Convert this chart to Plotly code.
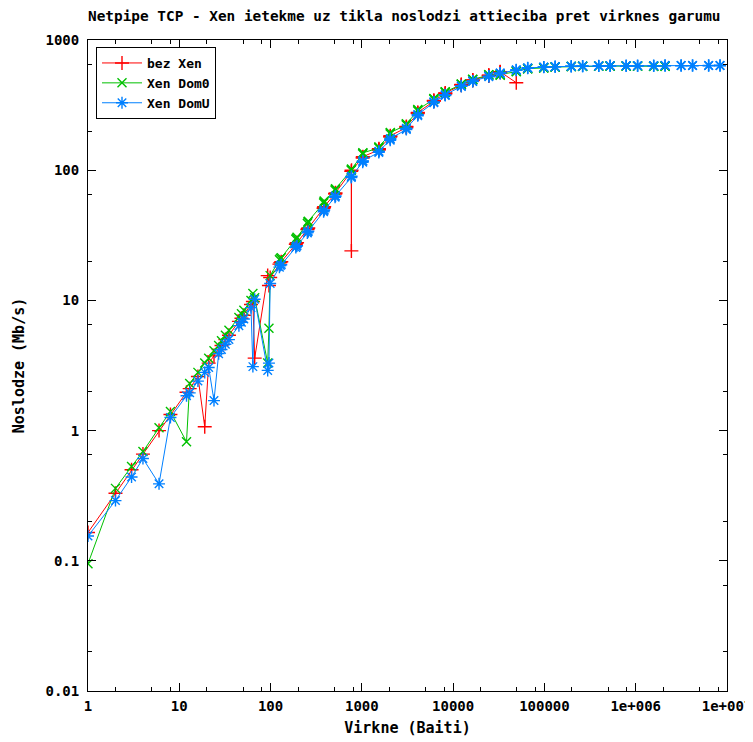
import plotly.graph_objects as go

# Message sizes (bytes) used by NetPIPE
sizes = [1, 2, 3, 4, 6, 8, 12, 13, 16, 19, 21, 24, 27, 29, 32, 35, 45, 48, 51, 61, 64, 67,
         93, 96, 99, 125, 128, 131, 189, 192, 195, 253, 256, 259, 381, 384, 387,
         509, 512, 515, 765, 768, 771, 1021, 1024, 1027, 1533, 1536, 1539,
         2045, 2048, 2051, 3069, 3072, 3075, 4093, 4096, 4099, 6141, 6144, 6147,
         8189, 8192, 8195, 12285, 12288, 12291, 16381, 16384, 16387,
         24573, 24576, 24579, 32765, 32768, 32771, 49149, 49152, 49155,
         65533, 65536, 65539, 98301, 98304, 98307, 131069, 131072, 131075,
         196605, 196608, 196611, 262141, 262144, 262147, 393213, 393216, 393219,
         524285, 524288, 524291, 786429, 786432, 786435, 1048573, 1048576, 1048579,
         1572861, 1572864, 1572867, 2097149, 2097152, 2097155, 3145725, 3145728, 3145731,
         4194301, 4194304, 4194307, 6291453, 6291456, 6291459, 8388605, 8388608, 8388611]

# Throughput (Mb/s)
bez_xen = [0.165, 0.33, 0.50, 0.66, 1.0, 1.33, 1.97, 2.1, 2.6, 1.07, 3.3, 3.75, 4.2, 4.5, 5.0, 5.4,
           6.9, 7.3, 7.7, 9.3, 9.8, 3.6, 15.5, 13.0, 15.0, 19.0, 19.5, 19.8, 27, 27.5, 27.8,
           35, 35.5, 36, 51, 52, 52.5, 66, 66, 67, 98, 24, 100, 124, 126, 127, 143, 145, 146,
           180, 182, 184, 212, 215, 217, 272, 276, 278, 338, 342, 344, 385, 390, 392,
           450, 453, 455, 488, 492, 494, 530, 535, 537, 562, 568, 570, 470]

xen_dom0 = [0.095, 0.36, 0.53, 0.69, 1.05, 1.4, 0.82, 2.3, 2.8, 3.3, 3.6, 4.1, 4.5, 4.9, 5.4, 5.9,
            7.4, 7.9, 8.4, 10.0, 11.3, 10.5, 3.3, 6.1, 15.5, 20.5, 21, 21.3, 29.5, 30, 30.5,
            39, 40, 40.5, 56, 57, 58, 70, 71, 72, 100, 101, 102, 133, 135, 136, 148, 150, 151,
            190, 193, 195, 222, 225, 227, 285, 290, 292, 350, 353, 355, 395, 398, 400,
            455, 458, 460, 495, 498, 500, 535, 540, 542, 535, 540, 545, 570, 575, 578,
            600, 602, 603, 610, 611, 612, 620, 620, 621, 625, 626, 626, 628, 628, 629,
            630, 630, 630, 630, 631, 631, 630, 631, 631, 630, 630, 631, 628, 629, 629,
            628, 628]

xen_domu = [0.155, 0.29, 0.44, 0.61, 0.39, 1.26, 1.85, 1.95, 2.4, 2.8, 3.05, 1.7, 3.9, 4.2, 4.6, 5.0,
            6.4, 6.8, 7.2, 8.8, 3.1, 10.2, 2.9, 3.3, 13.5, 18, 18.5, 18.8, 25.5, 26, 26.3,
            33, 33.5, 34, 48, 49, 49.5, 62, 63, 63.5, 88, 89, 90, 115, 117, 118, 137, 139, 140,
            170, 173, 175, 205, 208, 210, 262, 266, 268, 330, 333, 335, 375, 378, 380,
            440, 443, 445, 480, 483, 485, 522, 526, 528, 553, 557, 559, 585, 588, 590,
            608, 610, 611, 618, 619, 620, 623, 624, 625, 627, 628, 628, 630, 630, 631,
            632, 632, 633, 633, 633, 634, 634, 634, 634, 635, 635, 635, 635, 635, 635,
            636, 636, 636, 636, 636, 636, 636, 636, 636, 636, 636, 637, 637, 637, 637]

x_tickvals = [1, 10, 100, 1000, 10000, 100000, 1000000, 10000000]
x_ticktext = ["1", "10", "100", "1000", "10000", "100000", "1e+006", "1e+007"]
y_tickvals = [0.01, 0.1, 1, 10, 100, 1000]
y_ticktext = ["0.01", "0.1", "1", "10", "100", "1000"]

x_minor = [m * 10 ** d for d in range(7) for m in (2, 5, 8)]
y_minor = [m * 10 ** d for d in range(-2, 3) for m in (2, 6.5)]

FONT = "DejaVu Sans Mono"

fig = go.Figure()
series = [
    ("bez Xen", bez_xen, "#ff0000", "cross-thin-open", 10),
    ("Xen Dom0", xen_dom0, "#00c000", "x-thin-open", 9),
    ("Xen DomU", xen_domu, "#0080ff", "asterisk-open", 10),
]
for name, vals, color, sym, size in series:
    fig.add_trace(go.Scatter(
        x=sizes[:len(vals)], y=vals, name=name, mode="lines+markers",
        line=dict(color=color, width=1),
        marker=dict(symbol=sym, size=size, color=color, line=dict(color=color, width=1.4)),
    ))

axis_common = dict(
    type="log", showline=True, linecolor="black", linewidth=1, mirror="allticks",
    ticks="inside", ticklen=8, tickcolor="black", tickwidth=1, showgrid=False,
    zeroline=False, automargin=False,
    tickfont=dict(family=FONT, size=14, color="black", weight="bold"),
)

# The page body adds an 8px offset; the figure is sized to fill the rest of the window.
W, H = 745, 734
fig.update_layout(
    width=W, height=H,
    margin=dict(l=80, r=26, t=32, b=51),
    paper_bgcolor="white", plot_bgcolor="white",
    title=dict(text="Netpipe TCP - Xen ietekme uz tikla noslodzi attieciba pret virknes garumu",
               xref="container", x=80 / W, xanchor="left", y=1 - 3 / H, yanchor="top",
               pad=dict(t=0, b=0, l=0, r=0),
               font=dict(family=FONT, size=14.4, color="black", weight="bold")),
    xaxis=dict(**axis_common, range=[0, 7], tickmode="array", tickvals=x_tickvals,
               ticktext=x_ticktext, ticklabelstandoff=2,
               minor=dict(tickmode="array", tickvals=x_minor, ticks="inside", ticklen=4,
                          tickcolor="black", showgrid=False),
               title=dict(text="Virkne (Baiti)", standoff=9,
                          font=dict(family=FONT, size=15, color="black", weight="bold"))),
    yaxis=dict(**axis_common, range=[-2, 3], tickmode="array", tickvals=y_tickvals,
               ticktext=y_ticktext, ticklabelstandoff=5,
               minor=dict(tickmode="array", tickvals=y_minor, ticks="inside", ticklen=4,
                          tickcolor="black", showgrid=False),
               title=dict(text="Noslodze (Mb/s)", standoff=17,
                          font=dict(family=FONT, size=15, color="black", weight="bold"))),
    legend=dict(x=8 / 639, y=1 - 7 / 651, xanchor="left", yanchor="top",
                bordercolor="black", borderwidth=1, bgcolor="white",
                font=dict(family=FONT, size=13, color="black", weight="bold"),
                tracegroupgap=0, itemwidth=40),
    showlegend=True,
)

fig.write_html("out.html")
